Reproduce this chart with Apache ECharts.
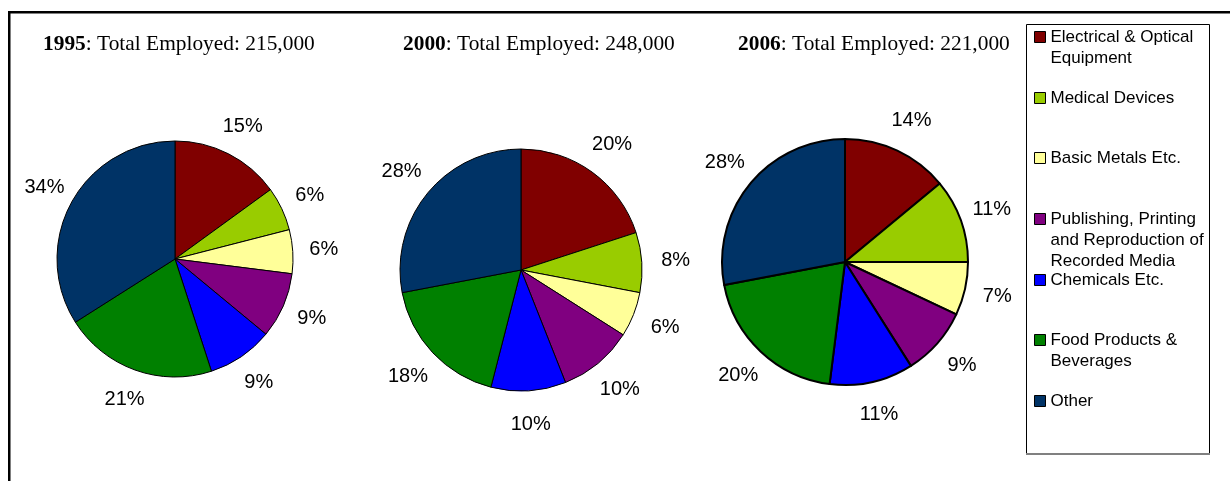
<!DOCTYPE html>
<html>
<head>
<meta charset="utf-8">
<script src="https://cdn.jsdelivr.net/npm/echarts@6/dist/echarts.min.js"></script>
<style>html,body{margin:0;padding:0;background:#fff;}#chart{width:1230px;height:481px;}</style>
</head>
<body>
<div id="chart"></div>
<script>
const categories = [
  'Electrical & Optical\nEquipment',
  'Medical Devices',
  'Basic Metals Etc.',
  'Publishing, Printing\nand Reproduction of\nRecorded Media',
  'Chemicals Etc.',
  'Food Products &\nBeverages',
  'Other'
];
const colors = ['#800000', '#99CC00', '#FFFF99', '#800080', '#0000FF', '#008000', '#003366'];
const years = ['1995', '2000', '2006'];
const totals = ['215,000', '248,000', '221,000'];
const share1995 = [15, 6, 6, 9, 9, 21, 34];
const share2000 = [20, 8, 6, 10, 10, 18, 28];
const share2006 = [14, 11, 7, 9, 11, 20, 28];
const shares = [share1995, share2000, share2006];

// layout (positions/sizes)
const pieCenters = [[175, 259], [521, 270], [845, 262]];
const pieRadii = [118, 121, 123];
const labelRing = [56, 62, 60];
const pieBorders = [1, 1, 2];
const titleLefts = [43, 403, 738];
const legendFirstLineY = [37, 98, 158, 219, 280, 340, 401];
const LH = 21;

const chart = echarts.init(document.getElementById('chart'), null, {renderer: 'canvas'});

const series = [];
shares.forEach((vals, k) => {
  const data = vals.map((v, i) => ({name: categories[i], value: v, itemStyle: {color: colors[i]}}));
  series.push({
    type: 'pie',
    center: pieCenters[k],
    radius: [0, pieRadii[k]],
    startAngle: 90,
    clockwise: true,
    silent: true,
    animation: false,
    label: {show: false},
    labelLine: {show: false},
    itemStyle: {borderColor: '#000', borderWidth: pieBorders[k]},
    emphasis: {disabled: true},
    data: data
  });
});
shares.forEach((vals, k) => {
  const data = vals.map((v, i) => ({name: categories[i], value: v}));
  series.push({
    type: 'pie',
    center: pieCenters[k],
    radius: [pieRadii[k], pieRadii[k] + labelRing[k]],
    startAngle: 90,
    clockwise: true,
    silent: true,
    animation: false,
    itemStyle: {color: 'rgba(0,0,0,0)', borderWidth: 0},
    label: {
      show: true,
      position: 'inside',
      formatter: '{c}%',
      color: '#000',
      fontFamily: 'Liberation Sans',
      fontSize: 20
    },
    labelLine: {show: false},
    emphasis: {disabled: true},
    data: data
  });
});

const legends = categories.map((name, i) => {
  const n = name.split('\n').length;
  return {
    orient: 'vertical',
    left: 1034,
    top: legendFirstLineY[i] - (2 * n - 1) * LH / 2,
    padding: 0,
    itemWidth: 11,
    itemHeight: 11,
    icon: 'rect',
    selectedMode: false,
    itemStyle: {borderColor: '#000', borderWidth: 1},
    textStyle: {fontFamily: 'Liberation Sans', fontSize: 17, color: '#000', lineHeight: LH},
    formatter: (nm) => '\n'.repeat(n - 1) + nm,
    data: [name]
  };
});

const titles = years.map((y, k) => ({
  text: '{b|' + y + '}: Total Employed: ' + totals[k],
  left: titleLefts[k],
  top: 34,
  padding: 0,
  textStyle: {
    fontFamily: 'Liberation Serif',
    fontSize: 21.4,
    fontWeight: 'normal',
    color: '#000',
    rich: {b: {fontFamily: 'Liberation Serif', fontSize: 21.4, fontWeight: 'bold', color: '#000'}}
  }
}));

chart.setOption({
  animation: false,
  title: titles,
  legend: legends,
  series: series,
  graphic: [
    {type: 'rect', shape: {x: 8, y: 11, width: 1230, height: 2.5}, style: {fill: '#000'}, silent: true},
    {type: 'rect', shape: {x: 8, y: 11, width: 2.5, height: 480}, style: {fill: '#000'}, silent: true},
    {type: 'rect', shape: {x: 1026.5, y: 24.5, width: 183, height: 429}, style: {fill: 'none', stroke: '#000', lineWidth: 1}, silent: true},
    {type: 'rect', shape: {x: 1026, y: 453, width: 184, height: 2}, style: {fill: '#808080'}, silent: true}
  ]
});
</script>
</body>
</html>
